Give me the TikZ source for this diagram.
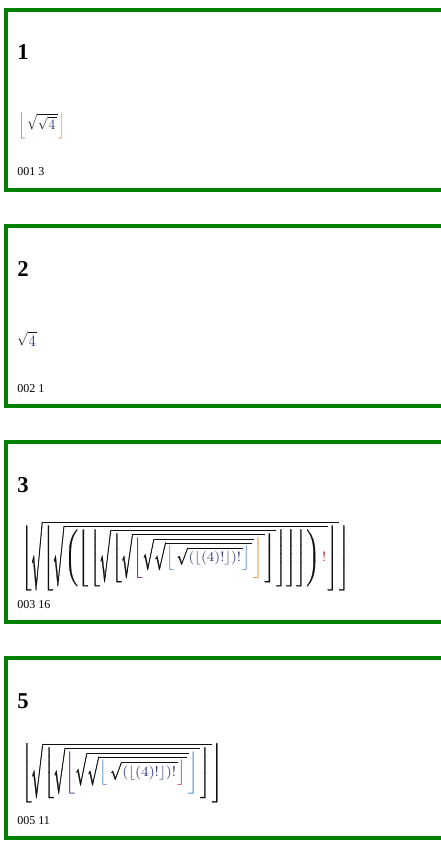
\documentclass[tikz,border=0pt]{standalone}
\usepackage{fontspec}
\setmainfont{Liberation Serif}
\usepackage{graphicx}
\definecolor{boxgreen}{HTML}{008000}
\definecolor{ink}{HTML}{111111}
\definecolor{cblu}{HTML}{3A7BD5}
\definecolor{corg}{HTML}{E0902A}
\definecolor{cpur}{HTML}{6A1A8A}
\definecolor{cred}{HTML}{C02030}
\definecolor{small}{HTML}{2E3A78}
\newbox\radbox
\newdimen\radht
\newcommand{\rad}[1]{\mathord{\setbox\radbox=\hbox{$\textstyle#1$}%
  \radht=\dimexpr\ht\radbox+\dp\radbox+2.4pt\relax
  \raisebox{-\dp\radbox}{\resizebox*{0.72em}{\radht}{\raisebox{\depth}{$\surd$}}}%
  \vbox{\hrule height 0.55pt\kern1.85pt\hbox{\kern0.6pt\box\radbox\kern1pt}}}}
\newcommand{\heavy}{\special{pdf:literal direct 2 Tr 0.18 w}}
\newcommand{\plain}{\special{pdf:literal direct 0 Tr}}
\newcommand{\cfloor}[3]{{\plain\color{#1}\left\lfloor\heavy\color{ink}#3\plain\color{#2}\right\rfloor\heavy}}
\newcommand{\thinfloor}[3]{{\color{#1}\left\lfloor\color{ink}#3\color{#2}\right\rfloor}}
\newcommand{\core}{\rad{{\color{small}\plain(\lfloor(4)!\rfloor)!\heavy}}}
\begin{document}
\begin{tikzpicture}[x=0.75pt,y=-0.75pt,
  frame/.style={draw=boxgreen, line width=3pt},
  heading/.style={anchor=base west, inner sep=0pt, font=\fontsize{17}{20}\selectfont\bfseries},
  caption/.style={anchor=base west, inner sep=0pt, font=\fontsize{9}{11}\selectfont},
  formula/.style={anchor=north west, inner sep=0pt}]
\useasboundingbox (0,0) rectangle (440,852);
\fill[white] (0,0) rectangle (440,852);
% frames
\foreach \t in {10,226,442,658}{
  \draw[frame] (446,\t) -- (6,\t) -- (6,\t+180) -- (446,\t+180);
}
% headings
\node[heading] (h1) at (17,60) {1};
\node[heading] (h2) at (17,276) {2};
\node[heading] (h3) at (17,492) {3};
\node[heading] (h4) at (17,708) {5};
% captions
\node[caption] (c1) at (17,176) {001 3};
\node[caption] (c2) at (17,392) {002 1};
\node[caption] (c3) at (17,608) {003 16};
\node[caption] (c4) at (17,824) {005 11};
% formulas
\node[formula] (f1) at (18,113) {\resizebox*{35.25pt}{19.5pt}{$\color{ink}\thinfloor{cblu}{corg}{\,\rad{\rad{{\color{small}4}}}}$}};
\node[formula] (f2) at (17,332) {\resizebox*{15pt}{10.5pt}{$\color{ink}\rad{{\color{small}4}}$}};
\node[formula] (f3) at (21,522) {\resizebox*{246pt}{51pt}{\heavy$\color{ink}
  \left\lfloor\rad{\left\lfloor\rad{\left(\left\lfloor\left.\left\lfloor\rad{\left\lfloor\rad{
    \cfloor{cpur}{corg}{\rad{\rad{\cfloor{cblu}{cblu}{\,\core}}}}
  }\right\rfloor}\right\rfloor\right\rfloor\right\rfloor\right){\color{cred}\plain!\heavy}}\right\rfloor}\right\rfloor$\plain}};
\node[formula] (f4) at (21,743) {\resizebox*{150.75pt}{44.25pt}{\heavy$\color{ink}
  \left\lfloor\rad{\left\lfloor\rad{
    \cfloor{cpur}{cblu}{\rad{\rad{\cfloor{cblu}{cred}{\,\core}}}}
  }\right\rfloor}\right\rfloor$\plain}};
\end{tikzpicture}
\end{document}
